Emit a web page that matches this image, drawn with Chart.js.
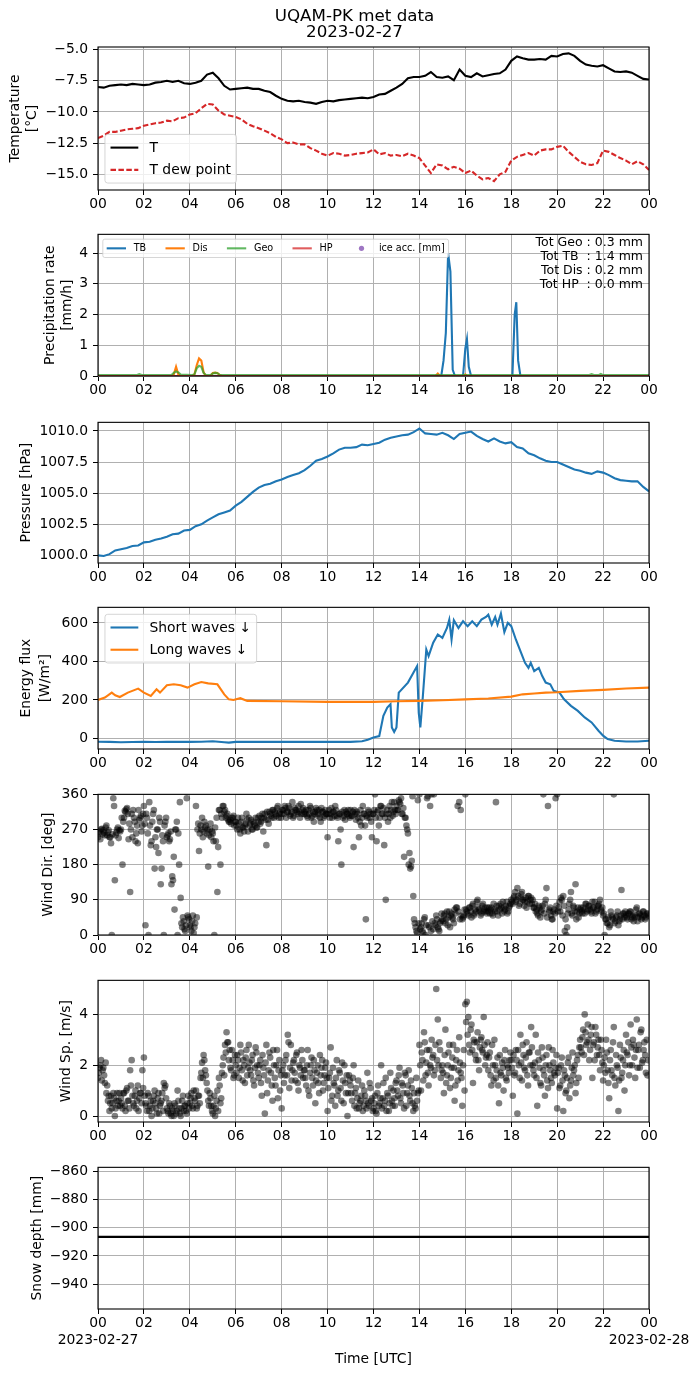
<!DOCTYPE html>
<html>
<head>
<meta charset="utf-8">
<script src="https://cdn.jsdelivr.net/npm/chart.js@4.4.1/dist/chart.umd.min.js"></script>
<style>
    body { margin: 0; background: #ffffff; width: 699px; height: 1377px; position: relative; overflow: hidden; }
    canvas { position: absolute; left: 0; }
</style>
</head>
<body>
<canvas id="temperature_chart"></canvas>
<canvas id="precipitation_chart"></canvas>
<canvas id="pressure_chart"></canvas>
<canvas id="energy_flux_chart"></canvas>
<canvas id="wind_direction_chart"></canvas>
<canvas id="wind_speed_chart"></canvas>
<canvas id="snow_depth_chart"></canvas>
<script>
// ---- data ----
const title_lines = ["UQAM-PK met data", "2023-02-27"];
const start_date = "2023-02-27";
const end_date = "2023-02-28";
const hour_ticks = [0, 2, 4, 6, 8, 10, 12, 14, 16, 18, 20, 22, 24];

// 15 minute samples, 00h to 24h
const quarter_hour_time = Array.from({ length: 97 }, (_, i) => i / 4);

const temperature = [
    -8.0, -8.05, -7.9, -7.85, -7.8, -7.85, -7.75, -7.8,
    -7.85, -7.8, -7.65, -7.6, -7.5, -7.6, -7.5, -7.7,
    -7.75, -7.65, -7.5, -7.0, -6.85, -7.3, -7.9, -8.2,
    -8.15, -8.1, -8.05, -8.15, -8.15, -8.3, -8.4, -8.7,
    -8.95, -9.1, -9.15, -9.1, -9.2, -9.25, -9.35, -9.2,
    -9.1, -9.15, -9.05, -9.0, -8.95, -8.9, -8.85, -8.9,
    -8.8, -8.6, -8.55, -8.3, -8.05, -7.75, -7.3, -7.2,
    -7.2, -7.1, -6.8, -7.2, -7.25, -7.15, -7.45, -6.6,
    -7.1, -7.2, -6.9, -7.15, -7.05, -6.95, -6.9, -6.6,
    -5.9, -5.55, -5.7, -5.8, -5.8, -5.75, -5.8, -5.5,
    -5.55, -5.35, -5.3, -5.5, -5.9, -6.2, -6.3, -6.35,
    -6.25, -6.5, -6.75, -6.8, -6.75, -6.85, -7.1, -7.35,
    -7.4
];
const dew_point = [
    -12.1, -11.9, -11.6, -11.6, -11.5, -11.4, -11.35, -11.3,
    -11.1, -11.0, -10.9, -10.85, -10.7, -10.75, -10.5, -10.45,
    -10.2, -10.1, -9.7, -9.35, -9.4, -9.9, -10.2, -10.3,
    -10.4, -10.6, -10.95, -11.15, -11.3, -11.5, -11.7, -12.0,
    -12.2, -12.5, -12.45, -12.6, -12.6, -12.9, -13.1, -13.35,
    -13.5, -13.3, -13.35, -13.5, -13.45, -13.35, -13.3, -13.25,
    -13.0, -13.4, -13.3, -13.5, -13.45, -13.55, -13.35, -13.5,
    -13.7, -14.3, -14.9, -14.2, -14.3, -14.6, -14.4, -14.55,
    -14.9, -14.7, -15.1, -15.4, -15.3, -15.55, -15.0, -14.8,
    -13.9, -13.6, -13.45, -13.3, -13.5, -13.1, -13.0, -13.0,
    -12.8, -12.7, -13.2, -13.6, -14.0, -14.2, -14.25, -14.1,
    -13.1, -13.2, -13.45, -13.7, -13.9, -14.2, -13.95, -14.2,
    -14.65
];
const pressure = [
    1000.0, 999.95, 1000.1, 1000.4, 1000.5, 1000.6, 1000.75, 1000.8,
    1001.05, 1001.1, 1001.25, 1001.35, 1001.5, 1001.7, 1001.75, 1002.0,
    1002.05, 1002.35, 1002.5, 1002.8, 1003.05, 1003.3, 1003.45, 1003.6,
    1004.0, 1004.3, 1004.7, 1005.1, 1005.45, 1005.65, 1005.75, 1005.95,
    1006.1, 1006.3, 1006.45, 1006.6, 1006.85, 1007.2, 1007.6, 1007.75,
    1007.95, 1008.2, 1008.5, 1008.65, 1008.65, 1008.7, 1008.9, 1008.85,
    1008.95, 1009.05, 1009.3, 1009.45, 1009.55, 1009.65, 1009.7, 1009.9,
    1010.2, 1009.8, 1009.75, 1009.7, 1009.85, 1009.65, 1009.35, 1009.75,
    1009.85, 1009.95, 1009.6, 1009.35, 1009.15, 1009.4, 1009.15, 1009.0,
    1009.1, 1008.7, 1008.6, 1008.2, 1008.05, 1007.8, 1007.6, 1007.5,
    1007.5, 1007.3, 1007.1, 1006.9, 1006.8, 1006.65, 1006.55, 1006.75,
    1006.65, 1006.45, 1006.2, 1006.05, 1006.0, 1005.95, 1005.95, 1005.5,
    1005.15
];

// precipitation rates [mm/h]
const precip_time = [
    0, 1.7, 1.8, 1.9, 3.2, 3.3, 3.4, 3.5, 3.6,
    4.1, 4.2, 4.3, 4.4, 4.5, 4.6, 4.7, 4.9, 5.0, 5.1, 5.2, 5.3, 5.4,
    14.7, 14.8, 14.9, 14.95, 15.05, 15.15, 15.25, 15.35, 15.45, 15.55,
    15.9, 16.0, 16.07, 16.15, 16.25, 18.05, 18.15, 18.22, 18.3, 18.4,
    21.4, 21.5, 21.6, 21.8, 21.9, 22.0, 24
];
const precip_tb = [
    0, 0, 0, 0, 0, 0, 0, 0, 0,
    0, 0, 0, 0, 0, 0, 0, 0, 0, 0, 0, 0, 0,
    0, 0, 0, 0, 0.5, 1.4, 4.0, 3.4, 0.2, 0,
    0, 0.9, 1.2, 0.3, 0, 0, 2.0, 2.4, 0.5, 0,
    0, 0, 0, 0, 0, 0, 0
];
const precip_dis = [
    0, 0, 0, 0, 0, 0.05, 0.3, 0.05, 0,
    0, 0.05, 0.35, 0.57, 0.5, 0.12, 0, 0, 0.1, 0.11, 0.1, 0.03, 0,
    0, 0.08, 0, 0, 0, 0, 0, 0, 0, 0,
    0, 0.05, 0, 0, 0, 0, 0, 0, 0, 0,
    0, 0, 0, 0, 0, 0, 0
];
const precip_geo = [
    0.03, 0.03, 0.06, 0.03, 0.03, 0.1, 0.15, 0.12, 0.05,
    0.03, 0.05, 0.25, 0.33, 0.3, 0.1, 0.03, 0.03, 0.08, 0.1, 0.09, 0.04, 0.03,
    0.03, 0.03, 0.03, 0.03, 0.03, 0.03, 0.03, 0.03, 0.03, 0.03,
    0.03, 0.03, 0.03, 0.03, 0.03, 0.03, 0.03, 0.03, 0.03, 0.03,
    0.03, 0.06, 0.03, 0.03, 0.07, 0.03, 0.03
];
const precip_hp = [
    0, 0, 0, 0, 0, 0, 0, 0, 0,
    0, 0, 0, 0, 0, 0, 0, 0, 0, 0, 0, 0, 0,
    0, 0, 0, 0, 0, 0, 0, 0, 0, 0,
    0, 0, 0, 0, 0, 0, 0, 0, 0, 0,
    0, 0, 0, 0, 0, 0, 0
];
const precip_totals = ["Tot Geo : 0.3 mm", "Tot TB  : 1.4 mm", "Tot Dis : 0.2 mm", "Tot HP  : 0.0 mm"];

// radiation [W/m2]
const short_wave_time = [
    0, 0.5, 1, 1.5, 2, 2.5, 3, 3.5, 4, 4.5,
    5, 5.5, 5.7, 6, 6.5, 7, 8, 9, 10, 11,
    11.5, 11.75, 12, 12.25, 12.43, 12.6, 12.74, 12.8, 12.9, 13.0,
    13.1, 13.5, 13.9, 13.97, 14.04, 14.15, 14.3, 14.4, 14.6, 14.8,
    15.0, 15.2, 15.3, 15.4, 15.5, 15.7, 15.9, 16.1, 16.3, 16.5,
    16.7, 16.9, 17.0, 17.15, 17.3, 17.4, 17.55, 17.7, 17.85, 18.0,
    18.2, 18.4, 18.6, 18.75, 18.85, 19.0, 19.2, 19.35, 19.5, 19.7,
    19.85, 20.1, 20.3, 20.6, 20.9, 21.2, 21.5, 21.8, 22.0, 22.2,
    22.5, 23.0, 23.5, 24
];
const short_wave = [
    -17, -18, -20, -19, -18, -19, -17, -18, -18, -17,
    -15, -20, -22, -18, -18, -18, -18, -18, -18, -18,
    -15, -7, 5, 12, 117, 160, 178, 57, 34, 57,
    238, 290, 376, 134, 57, 220, 462, 428, 497, 540,
    522, 574, 617, 514, 614, 574, 609, 583, 609, 583,
    617, 631, 643, 591, 631, 591, 648, 552, 600, 583,
    514, 453, 393, 367, 393, 350, 367, 324, 290, 281,
    247, 238, 203, 169, 143, 109, 83, 40, 14, -3,
    -12, -16, -16, -12
];
const long_wave_time = [
    0, 0.3, 0.6, 0.75, 0.95, 1.3, 1.75, 2.0, 2.3, 2.55,
    2.7, 3.0, 3.3, 3.6, 3.9, 4.2, 4.5, 4.8, 5.2, 5.5,
    5.7, 5.9, 6.2, 6.5, 8, 10, 12, 13, 14, 15,
    16, 17, 18, 18.5, 19, 19.5, 20, 21, 22, 23,
    24
];
const long_wave = [
    200, 212, 238, 224, 215, 238, 259, 238, 221, 255,
    238, 276, 281, 276, 264, 281, 293, 286, 281, 229,
    203, 200, 209, 195, 193, 190, 190, 193, 195, 198,
    203, 207, 217, 229, 233, 238, 240, 247, 252, 259,
    264
];

// wind: two interleaved sample sets, 15 samples per hour each
const wind_time_a = Array.from({ length: 360 }, (_, i) => i / 15);
const wind_time_b = Array.from({ length: 360 }, (_, i) => (i + 0.5) / 15);
const wind_direction_a = [
    250, 265, 270, 258, 262, 275, 255, 268, 250, 0, 350, 140, 262, 275, 268,
    270, 180, 300, 315, 325, 245, 110, 310, 320, 290, 260, 235, 295, 305, 280,
    330, 25, 300, 0, 280, 240, 310, 170, 225, 270, 300, 130, 255, 0, 290,
    250, 260, 245, 130, 140, 65, 270, 0, 180, 95, 20, 35, 10, 350, 45,
    25, 10, 50, 20, 330, 270, 215, 280, 300, 265, 275, 260, 175, 270, 250,
    260, 0, 240, 110, 320, 180, 300, 330, 320, 305, 295, 290, 285, 300, 280,
    290, 270, 285, 260, 300, 275, 280, 310, 265, 280, 295, 270, 285, 300, 275,
    290, 285, 300, 265, 310, 230, 295, 315, 305, 320, 300, 310, 325, 300, 315,
    310, 320, 330, 300, 315, 325, 310, 340, 305, 320, 315, 330, 300, 310, 325,
    315, 320, 300, 310, 325, 305, 290, 315, 320, 310, 300, 325, 315, 305, 310,
    250, 320, 310, 300, 315, 330, 305, 240, 310, 180, 300, 320, 315, 310, 305,
    320, 305, 225, 310, 315, 300, 290, 280, 330, 310, 40, 300, 315, 310, 250,
    310, 360, 240, 320, 300, 330, 310, 230, 90, 320, 310, 300, 340, 315, 320,
    330, 320, 340, 350, 310, 200, 300, 270, 180, 170, 190, 100, 30, 10, 345,
    360, 20, 10, 40, 0, 350, 25, 330, 360, 15, 30, 50, 20, 10, 35,
    40, 50, 30, 60, 45, 20, 55, 40, 65, 70, 330, 340, 320, 40, 50,
    360, 60, 50, 70, 45, 80, 55, 60, 90, 65, 50, 75, 60, 70, 55,
    60, 55, 70, 50, 65, 340, 60, 75, 80, 55, 70, 65, 85, 60, 75,
    90, 80, 100, 85, 120, 75, 95, 110, 90, 85, 70, 100, 80, 95, 90,
    70, 60, 55, 75, 45, 65, 360, 80, 120, 330, 60, 50, 40, 65, 350,
    360, 70, 60, 90, 100, 10, 0, 55, 80, 110, 50, 70, 130, 60, 45,
    65, 60, 70, 55, 80, 65, 75, 60, 85, 70, 55, 65, 75, 90, 60,
    50, 0, 40, 30, 20, 60, 45, 360, 35, 50, 25, 40, 115, 55, 45,
    50, 40, 55, 60, 45, 35, 50, 70, 45, 55, 40, 60, 50, 45, 55
];
const wind_direction_b = [
    260, 245, 272, 268, 255, 280, 262, 250, 235, 258, 330, 255, 270, 248, 265,
    300, 290, 318, 322, 310, 285, 270, 250, 300, 240, 280, 320, 300, 265, 310,
    285, 310, 260, 340, 230, 290, 320, 250, 270, 210, 290, 170, 240, 280, 300,
    255, 240, 265, 150, 200, 270, 290, 260, 340, 30, 45, 15, 25, 50, 40,
    20, 35, 5, 30, 45, 285, 260, 270, 250, 290, 280, 270, 255, 285, 265,
    240, 275, 300, 225, 320, 310, 330, 315, 300, 310, 290, 295, 300, 305, 290,
    280, 300, 270, 290, 275, 265, 285, 295, 300, 285, 270, 290, 280, 275, 300,
    305, 290, 310, 300, 295, 315, 285, 310, 300, 320, 315, 305, 330, 310, 300,
    320, 310, 325, 315, 330, 305, 315, 300, 325, 320, 310, 315, 335, 320, 310,
    310, 305, 320, 330, 300, 315, 310, 325, 305, 320, 290, 315, 300, 320, 310,
    310, 300, 325, 315, 305, 320, 300, 310, 270, 315, 305, 295, 310, 320, 300,
    305, 315, 320, 295, 310, 250, 320, 300, 310, 280, 305, 320, 300, 290, 310,
    320, 300, 315, 280, 330, 310, 325, 300, 310, 290, 330, 320, 305, 340, 310,
    320, 345, 335, 310, 325, 300, 280, 260, 210, 175, 355, 40, 20, 5, 30,
    15, 30, 5, 45, 25, 355, 20, 10, 35, 360, 25, 40, 15, 30, 55,
    35, 55, 40, 25, 60, 50, 45, 30, 55, 70, 60, 40, 50, 45, 65,
    65, 55, 70, 60, 75, 50, 65, 85, 70, 60, 55, 80, 65, 60, 70,
    70, 65, 55, 80, 60, 75, 50, 65, 70, 85, 60, 75, 55, 70, 80,
    85, 95, 110, 90, 100, 80, 105, 90, 75, 95, 85, 100, 90, 80, 70,
    80, 65, 50, 70, 60, 75, 55, 90, 45, 65, 70, 40, 60, 55, 75,
    60, 85, 95, 50, 75, 40, 20, 65, 90, 55, 75, 60, 40, 70, 55,
    70, 55, 65, 80, 60, 75, 65, 55, 70, 85, 60, 75, 80, 65, 70,
    55, 40, 30, 45, 25, 50, 40, 30, 45, 60, 35, 50, 40, 55, 60,
    45, 55, 60, 40, 50, 45, 65, 35, 55, 50, 45, 60, 40, 55, 50
];
const wind_speed_a = [
    1.5, 1.9, 2.2, 1.8, 1.6, 2.1, 1.2, 0.8, 0.5, 0.3, 0.9, 0.0, 0.6, 0.4, 0.9,
    0.7, 0.3, 0.9, 0.2, 1.1, 0.6, 1.8, 2.2, 0.5, 0.8, 0.3, 1.2, 0.7, 0.9, 1.8,
    2.3, 0.5, 0.2, 0.8, 0.4, 0.0, 0.6, 1.0, 0.3, 0.7, 0.1, 0.5, 0.9, 1.3, 1.2,
    0.3, 0.1, 0.4, 0.0, 0.2, 0.5, 0.1, 1.0, 0.3, 0.0, 0.6, 0.2, 0.4, 0.1, 0.8,
    0.5, 0.9, 0.3, 0.7, 1.0, 0.4, 0.8, 1.5, 2.1, 2.4, 1.8, 1.3, 0.6, 0.9, 0.4,
    0.1, 0.8, 0.3, 1.0, 1.5, 0.5, 1.7, 2.3, 2.8, 3.3, 2.9, 2.6, 1.8, 2.2, 1.6,
    2.0, 2.4, 1.5, 2.8, 1.8, 2.2, 1.3, 2.6, 1.9, 2.1, 1.6, 2.4, 1.2, 2.7, 2.0,
    1.5, 2.2, 0.8, 1.9, 0.1, 2.8, 1.4, 2.5, 1.7, 0.6, 2.0, 1.2, 2.6, 1.8, 1.0,
    0.3, 2.0, 1.6, 2.4, 3.2, 1.1, 2.8, 1.8, 2.2, 1.4, 2.5, 1.0, 1.9, 2.6, 1.5,
    1.8, 1.2, 2.6, 0.8, 2.0, 1.5, 2.2, 0.5, 1.7, 1.3, 2.4, 1.9, 1.0, 1.6, 2.1,
    0.2, 1.5, 2.7, 0.8, 1.3, 0.4, 2.2, 1.0, 1.7, 0.6, 1.4, 2.0, 0.9, 0.0, 1.6,
    1.2, 0.6, 2.0, 0.9, 0.3, 1.4, 0.5, 0.8, 0.2, 1.0, 0.6, 1.7, 0.4, 1.1, 0.7,
    0.3, 0.8, 0.1, 1.2, 0.5, 2.0, 0.7, 0.4, 1.5, 0.9, 0.2, 1.7, 0.6, 1.0, 0.4,
    1.4, 0.8, 1.9, 0.5, 1.2, 0.3, 1.6, 0.9, 1.8, 0.6, 1.1, 0.2, 0.4, 1.5, 0.9,
    2.8, 1.0, 2.2, 3.3, 1.6, 2.6, 1.2, 2.0, 3.0, 2.4, 1.8, 5.0, 3.8, 2.9, 1.5,
    2.0, 0.9, 3.4, 1.6, 2.5, 1.1, 1.9, 2.8, 0.6, 2.2, 1.4, 3.1, 1.7, 0.4, 2.6,
    4.4, 4.5, 3.9, 2.5, 3.6, 1.3, 2.9, 2.2, 3.3, 1.8, 3.0, 2.6, 3.9, 2.0, 2.4,
    1.8, 2.5, 1.2, 2.0, 3.0, 1.5, 2.3, 0.5, 1.7, 2.1, 1.0, 2.6, 1.4, 1.9, 2.2,
    2.2, 0.8, 1.6, 2.6, 0.1, 2.0, 3.2, 1.4, 2.4, 1.8, 2.9, 1.2, 2.5, 3.5, 2.0,
    1.6, 3.2, 0.4, 2.2, 1.3, 2.7, 1.8, 0.8, 2.4, 1.1, 2.0, 1.5, 2.6, 1.7, 1.9,
    0.3, 1.9, 1.2, 2.3, 0.2, 1.6, 1.0, 2.1, 0.7, 1.4, 2.5, 1.8, 0.9, 2.2, 1.5,
    3.0, 2.5, 3.4, 4.0, 2.8, 3.6, 2.2, 3.2, 1.5, 2.9, 3.5, 2.4, 3.0, 1.8, 2.6,
    1.4, 2.3, 3.0, 1.8, 0.7, 2.6, 1.6, 3.5, 1.2, 2.0, 0.2, 2.8, 1.5, 2.2, 1.0,
    3.2, 2.4, 1.6, 3.6, 2.0, 2.8, 1.5, 3.8, 2.6, 1.9, 3.4, 2.2, 2.9, 1.7, 1.6
];
const wind_speed_b = [
    1.7, 2.0, 1.4, 1.9, 1.3, 0.9, 0.6, 0.2, 0.8, 0.5, 0.7, 0.3, 0.9, 0.6, 0.4,
    0.5, 0.9, 0.4, 1.0, 0.6, 0.3, 1.2, 0.8, 0.4, 1.0, 0.6, 0.2, 0.9, 0.5, 1.1,
    0.8, 0.4, 0.9, 0.2, 0.6, 0.3, 0.8, 0.5, 0.1, 0.9, 0.4, 0.6, 0.2, 1.1, 0.7,
    0.2, 0.5, 0.1, 0.3, 0.0, 0.4, 0.2, 0.6, 0.1, 0.3, 0.8, 0.4, 0.2, 0.5, 0.3,
    0.7, 0.4, 1.0, 0.6, 0.3, 0.8, 0.5, 1.7, 1.5, 2.2, 1.6, 1.0, 0.4, 0.7, 0.2,
    0.4, 0.0, 0.6, 0.2, 1.2, 0.7, 2.0, 1.6, 2.5, 2.9, 2.2, 1.9, 2.6, 1.5, 2.4,
    1.7, 2.2, 1.9, 2.5, 1.4, 2.0, 2.3, 1.6, 2.8, 1.8, 2.2, 1.4, 1.9, 2.5, 1.7,
    2.0, 1.3, 2.4, 1.6, 2.1, 0.9, 1.8, 2.3, 1.2, 2.6, 1.5, 2.0, 0.7, 2.2, 1.6,
    1.8, 1.3, 2.2, 1.6, 2.9, 1.9, 1.4, 2.1, 1.7, 2.4, 1.3, 2.0, 1.6, 2.2, 1.8,
    1.5, 2.0, 1.0, 1.7, 2.3, 1.2, 1.8, 1.4, 2.0, 0.9, 1.6, 2.2, 1.3, 1.9, 1.5,
    1.1, 1.7, 0.6, 1.9, 1.2, 1.5, 0.8, 1.8, 1.1, 2.1, 0.5, 1.3, 1.6, 0.9, 1.4,
    0.9, 1.5, 0.4, 1.1, 0.7, 0.3, 0.6, 1.2, 0.4, 0.8, 0.3, 0.5, 1.3, 0.6, 0.2,
    0.5, 0.2, 0.9, 0.4, 0.7, 0.3, 1.3, 0.6, 0.2, 0.8, 0.5, 1.1, 0.4, 0.7, 1.3,
    1.0, 1.6, 0.7, 1.3, 0.9, 1.7, 0.4, 1.2, 0.8, 1.4, 0.5, 0.9, 0.3, 0.6, 1.0,
    2.0, 2.5, 1.4, 2.9, 2.1, 1.7, 2.6, 1.9, 2.3, 1.6, 2.8, 2.2, 2.0, 2.6, 1.8,
    1.7, 2.4, 1.3, 2.0, 2.8, 1.5, 2.3, 1.9, 1.2, 2.6, 1.8, 2.1, 1.5, 2.0, 1.0,
    3.7, 3.2, 2.8, 3.4, 2.6, 3.0, 2.4, 2.9, 2.2, 2.7, 3.1, 2.5, 2.8, 2.3, 2.9,
    2.3, 1.6, 2.8, 1.4, 2.0, 1.8, 1.2, 2.4, 1.6, 1.9, 2.2, 1.5, 2.0, 1.7, 2.5,
    1.9, 2.4, 1.7, 2.2, 2.6, 1.5, 2.1, 2.8, 1.9, 2.3, 1.6, 2.5, 2.0, 2.7, 1.8,
    2.1, 1.5, 2.5, 1.9, 1.2, 2.3, 1.6, 2.0, 1.4, 2.7, 1.8, 1.3, 2.1, 1.6, 2.4,
    1.7, 1.1, 2.0, 1.4, 1.8, 0.9, 1.5, 2.3, 1.2, 1.9, 1.6, 2.0, 1.3, 2.4, 2.7,
    2.7, 3.1, 2.4, 3.3, 2.9, 3.0, 2.6, 3.5, 2.8, 2.2, 3.2, 2.7, 2.4, 3.0, 2.1,
    2.0, 1.7, 2.5, 1.3, 2.2, 1.8, 2.9, 1.5, 2.4, 1.9, 1.4, 2.3, 1.7, 2.6, 2.0,
    2.5, 2.9, 2.0, 2.7, 3.0, 2.3, 2.6, 1.9, 2.8, 3.3, 2.1, 2.6, 2.4, 3.0, 2.2
];

const snow_time = [0, 24];
const snow_depth = [-906.5, -906.5];

// y tick values per panel
const temperature_ticks = [-15, -12.5, -10, -7.5, -5];
const precip_ticks = [0, 1, 2, 3, 4];
const pressure_ticks = [1000, 1002.5, 1005, 1007.5, 1010];
const flux_ticks = [0, 200, 400, 600];
const wind_direction_ticks = [0, 90, 180, 270, 360];
const wind_speed_ticks = [0, 2, 4];
const snow_ticks = [-940, -920, -900, -880, -860];

// ---- styles ----
const FONT = "'DejaVu Sans', 'Noto Sans', sans-serif";
Chart.defaults.font.family = FONT;
Chart.defaults.font.size = 13.9;
Chart.defaults.color = "#000000";

const BLUE = "#1f77b4";
const ORANGE = "#ff7f0e";
const GREEN = "rgba(44, 160, 44, 0.75)";
const RED_FADED = "rgba(214, 39, 40, 0.75)";
const RED = "#d62728";
const PURPLE = "rgba(148, 103, 189, 0.9)";
const LINE_W = 2.1;
const DOT = "rgba(0, 0, 0, 0.5)";

function xy(times, values)
{
    return times.map((t, i) => ({ x: t, y: values[i] }));
}

function minus(text)
{
    return text.replace("-", "\u2212");
}

function hour_label(v)
{
    return String(v % 24).padStart(2, "0");
}

const frame_plugin =
{
    id: "frame",
    afterDatasetsDraw(chart)
    {
        const { ctx, chartArea: a } = chart;
        ctx.save();
        ctx.strokeStyle = "#000000";
        ctx.lineWidth = 1.1;
        ctx.strokeRect(a.left, a.top, a.right - a.left, a.bottom - a.top);
        ctx.restore();
    }
};

// matplotlib-like legend box inside the axes
function legend_plugin(items, opts)
{
    return {
        id: "box_legend",
        afterDraw(chart)
        {
            const { ctx, chartArea: a } = chart;
            const fs = opts.font_size;
            const pad = 0.4 * fs, handle_len = 2 * fs, handle_gap = 0.8 * fs;
            const row_gap = 0.5 * fs, col_gap = 2 * fs, row_h = 1.1 * fs;
            const cols = opts.columns || 1;
            const rows = Math.ceil(items.length / cols);
            ctx.save();
            ctx.font = fs + "px " + FONT;
            const col_w = [];
            for (let c = 0; c < cols; c++)
            {
                let w = 0;
                for (let r = 0; r < rows; r++)
                {
                    const it = items[c * rows + r];
                    if (it) w = Math.max(w, ctx.measureText(it.label).width);
                }
                col_w.push(handle_len + handle_gap + w);
            }
            const box_w = 2 * pad + col_w.reduce((s, w) => s + w, 0) + col_gap * (cols - 1);
            const box_h = 2 * pad + rows * row_h + (rows - 1) * row_gap;
            const left = a.left + 0.5 * fs;
            const top = opts.loc === "lower left" ? a.bottom - 0.5 * fs - box_h : a.top + 0.5 * fs;
            ctx.beginPath();
            ctx.roundRect(left, top, box_w, box_h, 0.2 * fs);
            ctx.fillStyle = "rgba(255, 255, 255, 0.8)";
            ctx.fill();
            ctx.strokeStyle = "rgba(204, 204, 204, 0.8)";
            ctx.lineWidth = 1;
            ctx.stroke();
            let x0 = left + pad;
            for (let c = 0; c < cols; c++)
            {
                for (let r = 0; r < rows; r++)
                {
                    const it = items[c * rows + r];
                    if (!it) continue;
                    const cy = top + pad + r * (row_h + row_gap) + row_h / 2;
                    if (it.marker)
                    {
                        ctx.beginPath();
                        ctx.arc(x0 + handle_len / 2, cy, it.marker, 0, Math.PI * 2);
                        ctx.fillStyle = it.color;
                        ctx.fill();
                    }
                    else
                    {
                        ctx.beginPath();
                        ctx.setLineDash(it.dash || []);
                        ctx.strokeStyle = it.color;
                        ctx.lineWidth = LINE_W;
                        ctx.moveTo(x0, cy);
                        ctx.lineTo(x0 + handle_len, cy);
                        ctx.stroke();
                        ctx.setLineDash([]);
                    }
                    ctx.fillStyle = "#000000";
                    ctx.textAlign = "left";
                    ctx.textBaseline = "middle";
                    ctx.fillText(it.label, x0 + handle_len + handle_gap, cy + 0.5);
                }
                x0 += col_w[c] + col_gap;
            }
            ctx.restore();
        }
    };
}

const figure_title_plugin =
{
    id: "figure_title",
    afterDraw(chart)
    {
        const ctx = chart.ctx;
        ctx.save();
        ctx.font = "16.7px " + FONT;
        ctx.fillStyle = "#000000";
        ctx.textAlign = "center";
        ctx.textBaseline = "middle";
        ctx.fillText(title_lines[0], 354.5, 17);
        ctx.fillText(title_lines[1], 354.5, 33);
        ctx.restore();
    }
};

const precip_totals_plugin =
{
    id: "precip_totals",
    afterDraw(chart)
    {
        const { ctx, chartArea: a } = chart;
        ctx.save();
        ctx.font = "12.5px " + FONT;
        ctx.fillStyle = "#000000";
        ctx.textAlign = "right";
        ctx.textBaseline = "middle";
        precip_totals.forEach((line, i) => ctx.fillText(line, a.right - 6, a.top + 8 + i * 14.2));
        ctx.restore();
    }
};

// panel geometry: top of plot area, plot height, space above, space below for the x axis
const panels =
{
    temperature: { top: 47, h: 143, pad: 47, xh: 32 },
    precipitation: { top: 233, h: 143, pad: 12, xh: 32 },
    pressure: { top: 421, h: 142, pad: 12, xh: 32 },
    energy_flux: { top: 606, h: 143, pad: 12, xh: 32 },
    wind_direction: { top: 793, h: 142, pad: 12, xh: 32 },
    wind_speed: { top: 979, h: 143, pad: 12, xh: 32 },
    snow_depth: { top: 1166, h: 143, pad: 12, xh: 68 }
};

const grid_style = { color: "#b0b0b0", lineWidth: 1, tickColor: "#000000", tickLength: 5, tickWidth: 1 };

function make_panel(canvas_id, panel, type, datasets, y, extra_plugins, last)
{
    const canvas = document.getElementById(canvas_id);
    const height = panel.pad + panel.h + panel.xh;
    canvas.width = 699;
    canvas.height = height;
    canvas.style.width = "699px";
    canvas.style.height = height + "px";
    canvas.style.top = (panel.top - panel.pad) + "px";

    return new Chart(canvas,
    {
        type: type,
        data: { datasets: datasets },
        options:
        {
            responsive: false,
            animation: false,
            events: [],
            layout: { padding: { left: 0, right: 50, top: panel.pad, bottom: 0 } },
            plugins: { legend: { display: false }, tooltip: { enabled: false } },
            scales:
            {
                x:
                {
                    type: "linear",
                    min: 0,
                    max: 24,
                    afterBuildTicks: (s) => { s.ticks = hour_ticks.map((v) => ({ value: v })); },
                    afterFit: (s) => { s.height = panel.xh; },
                    ticks:
                    {
                        autoSkip: false,
                        maxRotation: 0,
                        padding: 1,
                        callback: (v) =>
                        {
                            if (last && v === 0) return [hour_label(v), start_date];
                            if (last && v === 24) return [hour_label(v), end_date];
                            return hour_label(v);
                        }
                    },
                    grid: grid_style,
                    border: { display: false },
                    title:
                    {
                        display: !!last,
                        text: "Time [UTC]",
                        padding: { top: 0, bottom: 9 }
                    }
                },
                y:
                {
                    type: "linear",
                    min: y.min,
                    max: y.max,
                    afterBuildTicks: (s) => { s.ticks = y.ticks.map((v) => ({ value: v })); },
                    afterFit: (s) => { s.width = 98; },
                    ticks: { padding: 5, callback: y.format },
                    grid: grid_style,
                    border: { display: false },
                    title:
                    {
                        display: true,
                        text: y.title,
                        padding: { top: y.title_pad, bottom: 0 },
                        font: { size: 13.9, lineHeight: y.title_line || 1.2 }
                    }
                }
            }
        },
        plugins: [frame_plugin].concat(extra_plugins)
    });
}

function line_set(times, values, color, extra)
{
    return Object.assign(
    {
        data: xy(times, values),
        borderColor: color,
        backgroundColor: color,
        borderWidth: LINE_W,
        pointRadius: 0,
        fill: false,
        tension: 0,
        clip: 0
    }, extra || {});
}

function dot_set(points)
{
    return {
        data: points,
        backgroundColor: DOT,
        borderColor: DOT,
        borderWidth: 0,
        pointRadius: 3.3,
        clip: 0
    };
}

// 1. temperature
make_panel("temperature_chart", panels.temperature, "line",
[
    line_set(quarter_hour_time, temperature, "#000000", { order: 2 }),
    line_set(quarter_hour_time, dew_point, RED, { order: 1, borderDash: [5.5, 2.4] })
],
{
    min: -16.26, max: -4.79, ticks: temperature_ticks,
    format: (v) => minus(v.toFixed(1)),
    title: ["Temperature", "[\u00b0C]"], title_pad: 7.3
},
[
    figure_title_plugin,
    legend_plugin(
    [
        { label: "T", color: "#000000" },
        { label: "T dew point", color: RED, dash: [5.5, 2.4] }
    ], { font_size: 13.9, loc: "lower left" })
]);

// 2. precipitation
make_panel("precipitation_chart", panels.precipitation, "line",
[
    line_set(precip_time, precip_tb, BLUE, { order: 4 }),
    line_set(precip_time, precip_dis, ORANGE, { order: 3 }),
    line_set(precip_time, precip_geo, GREEN, { order: 2 }),
    line_set(precip_time, precip_hp, RED_FADED, { order: 1 })
],
{
    min: 0, max: 4.61, ticks: precip_ticks,
    format: (v) => String(v),
    title: ["Precipitation rate", "[mm/h]"], title_pad: 41.9
},
[
    precip_totals_plugin,
    legend_plugin(
    [
        { label: "TB", color: BLUE },
        { label: "Dis", color: ORANGE },
        { label: "Geo", color: GREEN },
        { label: "HP", color: RED_FADED },
        { label: "ice acc. [mm]", color: PURPLE, marker: 2.6 }
    ], { font_size: 9.65, loc: "upper left", columns: 5 })
]);

// 3. pressure
make_panel("pressure_chart", panels.pressure, "line",
[
    line_set(quarter_hour_time, pressure, BLUE)
],
{
    min: 999.39, max: 1010.69, ticks: pressure_ticks,
    format: (v) => v.toFixed(1),
    title: "Pressure [hPa]", title_pad: 17.7
}, []);

// 4. energy flux
make_panel("energy_flux_chart", panels.energy_flux, "line",
[
    line_set(short_wave_time, short_wave, BLUE, { order: 2 }),
    line_set(long_wave_time, long_wave, ORANGE, { order: 1 })
],
{
    min: -55, max: 681, ticks: flux_ticks,
    format: (v) => minus(String(v)),
    title: ["Energy flux", "[W/m\u00b2]"], title_pad: 16.3, title_line: 1.4
},
[
    legend_plugin(
    [
        { label: "Short waves \u2193", color: BLUE },
        { label: "Long waves \u2193", color: ORANGE }
    ], { font_size: 13.9, loc: "upper left" })
]);

// 5. wind direction
make_panel("wind_direction_chart", panels.wind_direction, "scatter",
[
    dot_set(xy(wind_time_a, wind_direction_a).concat(xy(wind_time_b, wind_direction_b)))
],
{
    min: 0, max: 360, ticks: wind_direction_ticks,
    format: (v) => String(v),
    title: "Wind Dir. [deg]", title_pad: 40
}, []);

// 6. wind speed
make_panel("wind_speed_chart", panels.wind_speed, "scatter",
[
    dot_set(xy(wind_time_a, wind_speed_a).concat(xy(wind_time_b, wind_speed_b)))
],
{
    min: -0.235, max: 5.34, ticks: wind_speed_ticks,
    format: (v) => String(v),
    title: "Wind Sp. [m/s]", title_pad: 58
}, []);

// 7. snow depth
make_panel("snow_depth_chart", panels.snow_depth, "line",
[
    line_set(snow_time, snow_depth, "#000000", { borderWidth: 2.4 })
],
{
    min: -957.5, max: -857.4, ticks: snow_ticks,
    format: (v) => minus(String(v)),
    title: "Snow depth [mm]", title_pad: 28.9
}, [], true);
</script>
</body>
</html>
